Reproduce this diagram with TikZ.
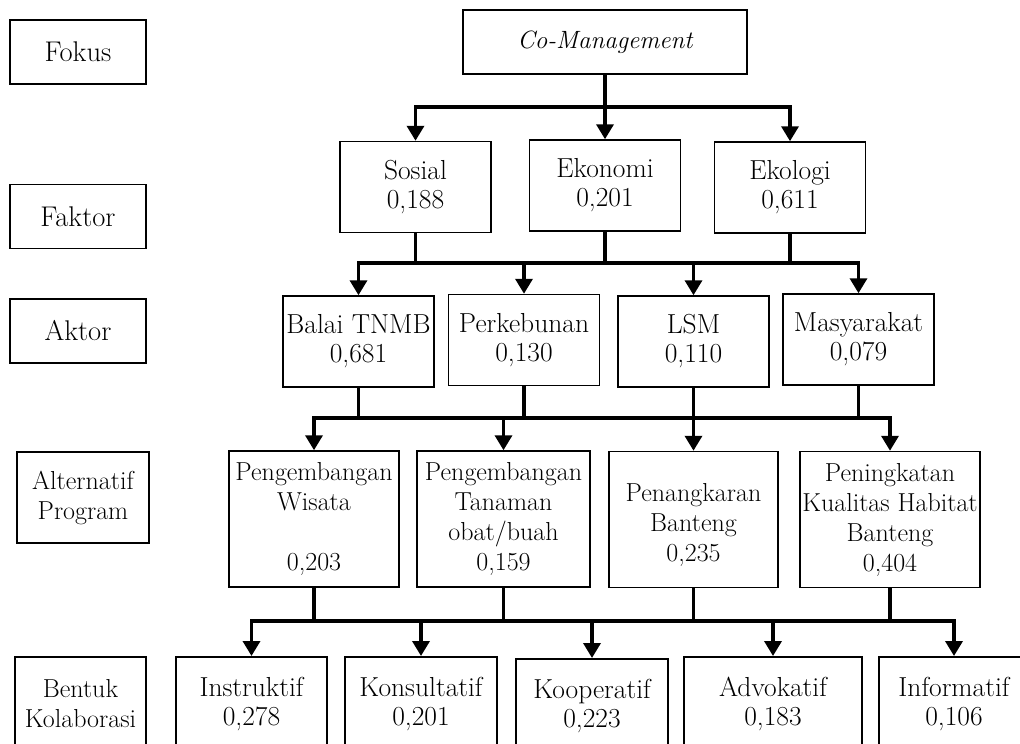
\documentclass[tikz,border=0pt]{standalone}
\usepackage{tikz}
\usetikzlibrary{arrows.meta,calc}
\tikzstyle{kotak}=[rectangle, draw, line width=1.5pt, align=center, inner sep=0pt,% box with two lines of text
font=\fontsize{27.5}{29}\selectfont]
\tikzstyle{judul}=[kotak, minimum width=136pt, minimum height=64pt, font=\fontsize{28.5}{29}\selectfont]
\tikzstyle{faktor}=[kotak, minimum width=151pt, minimum height=91pt]
\tikzstyle{alt}=[kotak, minimum height=136pt, font=\fontsize{26}{30}\selectfont]
\tikzstyle{bentuk}=[kotak, anchor=north, minimum height=94pt]
\tikzstyle{dgraph}=[-{Triangle[width=17pt,length=15pt]}, line width=3.5pt]

\begin{document}
\begin{tikzpicture}[x=1pt,y=-1pt]
\useasboundingbox (0,0) rectangle (1020,744);
\clip (0,0) rectangle (1020,744);
% left column
\node[judul] (fokus) at (78,52) {Fokus};
\node[judul] (fak) at (78,216.5) {Faktor};
\node[judul] (akt) at (78,331) {Aktor};
\node[judul, minimum width=132pt, minimum height=91pt, font=\fontsize{26}{30}\selectfont] (alter) at (83,497.5) {Alternatif\\Program};
\node[bentuk, minimum width=131pt, font=\fontsize{26}{30}\selectfont] (bk) at (80.5,656) {Bentuk\\Kolaborasi};
% hierarchy
\node[kotak, minimum width=284pt, minimum height=64pt, font=\fontsize{25}{29}\selectfont] (cm) at (605,42) {\itshape Co-Management};
\node[faktor] (sos) at (415.5,187) {Sosial\\0,188};
\node[faktor] (eko) at (605,185.5) {Ekonomi\\0,201};
\node[faktor] (eki) at (790,187.5) {Ekologi\\0,611};
\node[faktor] (a1) at (358.5,341.5) {Balai TNMB\\0,681};
\node[faktor] (a2) at (524,340) {Perkebunan\\0,130};
\node[faktor] (a3) at (693.5,341.5) {LSM\\0,110};
\node[faktor] (a4) at (858.5,339.5) {Masyarakat\\0,079};
\node[alt, minimum width=170pt] (p1) at (314,519) {Pengembangan\\Wisata\\\mbox{}\\0,203};
\node[alt, minimum width=173pt] (p2) at (503.5,519) {Pengembangan\\Tanaman\\obat/buah\\0,159};
\node[alt, minimum width=169pt] (p3) at (693.5,519.5) {\mbox{}\\Penangkaran\\Banteng\\0,235};
\node[alt, minimum width=180pt] (p4) at (890,519.5) {Peningkatan\\Kualitas Habitat\\Banteng\\0,404};
\node[bentuk, minimum width=151pt] (k1) at (251.5,656) {Instruktif\\0,278};
\node[bentuk, minimum width=152pt] (k2) at (421,656) {Konsultatif\\0,201};
\node[bentuk, minimum width=152pt] (k3) at (592,658) {Kooperatif\\0,223};
\node[bentuk, minimum width=178pt] (k4) at (773,656) {Advokatif\\0,183};
\node[bentuk, minimum width=150pt] (k5) at (954,656) {Informatif\\0,106};
\coordinate (b1) at (0,107);
\coordinate (b2) at (0,263);
\coordinate (b3) at (0,418);
\coordinate (b4) at (0,621);
\draw[dgraph] (cm.south) |- (sos.north |- b1) -- (sos.north);
\draw[dgraph] (cm.south) -- (eko.north);
\draw[dgraph] (cm.south) |- (eki.north |- b1) -- (eki.north);
\draw[dgraph] (eko.south) |- (a1.north |- b2) -- (a1.north);
\draw[dgraph] (sos.south) |- (a2.north |- b2) -- (a2.north);
\draw[dgraph] (eki.south) |- (a3.north |- b2) -- (a3.north);
\draw[dgraph] (eko.south) |- (a4.north |- b2) -- (a4.north);
\draw[dgraph] (a4.south) |- (p1.north |- b3) -- (p1.north);
\draw[dgraph] (a2.south) |- (p2.north |- b3) -- (p2.north);
\draw[dgraph] (a3.south) |- (p3.north |- b3) -- (p3.north);
\draw[dgraph] (a1.south) |- (p4.north |- b3) -- (p4.north);
\draw[dgraph] (p4.south) |- (k1.north |- b4) -- (k1.north);
\draw[dgraph] (p2.south) |- (k2.north |- b4) -- (k2.north);
\draw[dgraph] (p3.south) |- (k3.north |- b4) -- (k3.north);
\draw[dgraph] (p4.south) |- (k4.north |- b4) -- (k4.north);
\draw[dgraph] (p1.south) |- (k5.north |- b4) -- (k5.north);
\end{tikzpicture}
\end{document}
